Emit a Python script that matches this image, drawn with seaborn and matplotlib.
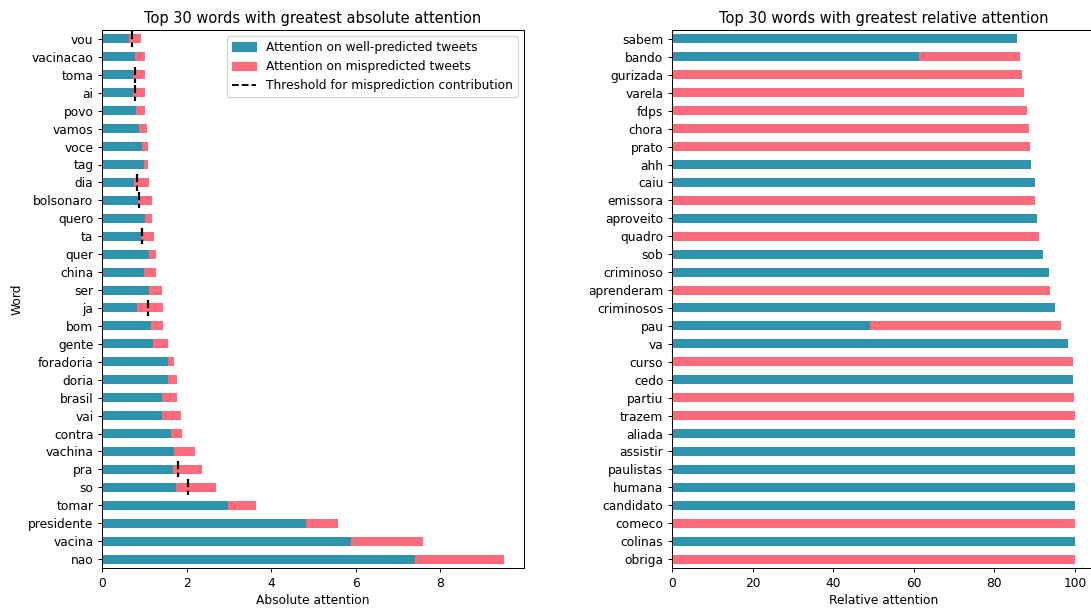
import numpy as np
import pandas as pd
import matplotlib
matplotlib.use("Agg")
import matplotlib.pyplot as plt
import seaborn as sns
from matplotlib.patches import Patch
from matplotlib.lines import Line2D

# Absolute attention (top to bottom)
abs_words = ['vou', 'vacinacao', 'toma', 'ai', 'povo', 'vamos', 'voce', 'tag', 'dia',
             'bolsonaro', 'quero', 'ta', 'quer', 'china', 'ser', 'ja', 'bom', 'gente',
             'foradoria', 'doria', 'brasil', 'vai', 'contra', 'vachina', 'pra', 'so',
             'tomar', 'presidente', 'vacina', 'nao']
abs_well = [0.64, 0.79, 0.73, 0.73, 0.80, 0.87, 0.94, 0.99, 0.76,
            0.86, 1.02, 0.92, 1.11, 0.99, 1.11, 0.82, 1.17, 1.20,
            1.56, 1.55, 1.41, 1.41, 1.63, 1.70, 1.67, 1.76,
            2.97, 4.83, 5.88, 7.41]
abs_total = [0.93, 1.01, 1.01, 1.01, 1.02, 1.06, 1.08, 1.09, 1.12,
             1.18, 1.19, 1.24, 1.27, 1.28, 1.41, 1.44, 1.45, 1.56,
             1.71, 1.77, 1.78, 1.86, 1.90, 2.20, 2.37, 2.70,
             3.64, 5.59, 7.59, 9.50]
abs_threshold = [0.70, None, 0.77, 0.77, None, None, None, None, 0.83,
                 0.88, None, 0.94, None, None, None, 1.08, None, None,
                 None, None, None, None, None, None, 1.79, 2.03,
                 None, None, None, None]

# Relative attention (top to bottom)
rel_words = ['sabem', 'bando', 'gurizada', 'varela', 'fdps', 'chora', 'prato', 'ahh',
             'caiu', 'emissora', 'aproveito', 'quadro', 'sob', 'criminoso', 'aprenderam',
             'criminosos', 'pau', 'va', 'curso', 'cedo', 'partiu', 'trazem', 'aliada',
             'assistir', 'paulistas', 'humana', 'candidato', 'comeco', 'colinas', 'obriga']
rel_well = [85.7, 61.3, 0, 0, 0, 0, 0, 89.1,
            90.0, 0, 90.6, 0, 92.1, 93.5, 0,
            95.1, 49.1, 98.3, 0, 99.6, 0, 0, 100,
            100, 100, 100, 100, 0, 100, 0]
rel_total = [85.7, 86.3, 86.8, 87.4, 88.1, 88.5, 88.9, 89.1,
             90.0, 90.1, 90.6, 91.0, 92.1, 93.5, 93.8,
             95.1, 96.5, 98.3, 99.5, 99.6, 99.8, 100, 100,
             100, 100, 100, 100, 100, 100, 100]

teal = '#2e93ad'
pink = '#ff6b7a'

df_abs = pd.DataFrame({'word': abs_words, 'well': abs_well, 'total': abs_total})
df_rel = pd.DataFrame({'word': rel_words, 'well': rel_well, 'total': rel_total})

# original looks rendered at a smaller dpi, so scale everything down
W, H = 1091, 608
fig = plt.figure(figsize=(W / 88, H / 88), dpi=88)
ax1 = fig.add_axes([102 / W, 1 - 568 / H, 422 / W, 538 / H])
# right panel runs a little past the image edge in the original
ax2 = fig.add_axes([672 / W, 1 - 568 / H, 423 / W, 538 / H])

for ax, d in [(ax1, df_abs), (ax2, df_rel)]:
    sns.barplot(data=d, x='total', y='word', color=pink, width=0.5,
                linewidth=0, saturation=1, ax=ax)
    sns.barplot(data=d, x='well', y='word', color=teal, width=0.5,
                linewidth=0, saturation=1, ax=ax)

# threshold markers
for i, t in enumerate(abs_threshold):
    if t is not None:
        ax1.vlines(t, i - 0.45, i + 0.45, colors='black', linestyles='--', linewidth=1.8)

ax1.set_ylim(len(abs_words) - 0.5, -0.5)
ax2.set_ylim(len(rel_words) - 0.5, -0.5)

ax1.set_title('Top 30 words with greatest absolute attention')
ax1.set_xlabel('Absolute attention')
ax1.set_ylabel('Word')
ax1.set_xlim(0, 9.975)

ax2.set_title('Top 30 words with greatest relative attention')
ax2.set_xlabel('Relative attention')
ax2.set_ylabel('')
ax2.set_xlim(0, 105)

handles = [Patch(color=teal, label='Attention on well-predicted tweets'),
           Patch(color=pink, label='Attention on mispredicted tweets'),
           Line2D([], [], color='black', linestyle='--', label='Threshold for misprediction contribution')]
ax1.legend(handles=handles, loc='upper right')

fig.savefig('out.png', dpi=88)
